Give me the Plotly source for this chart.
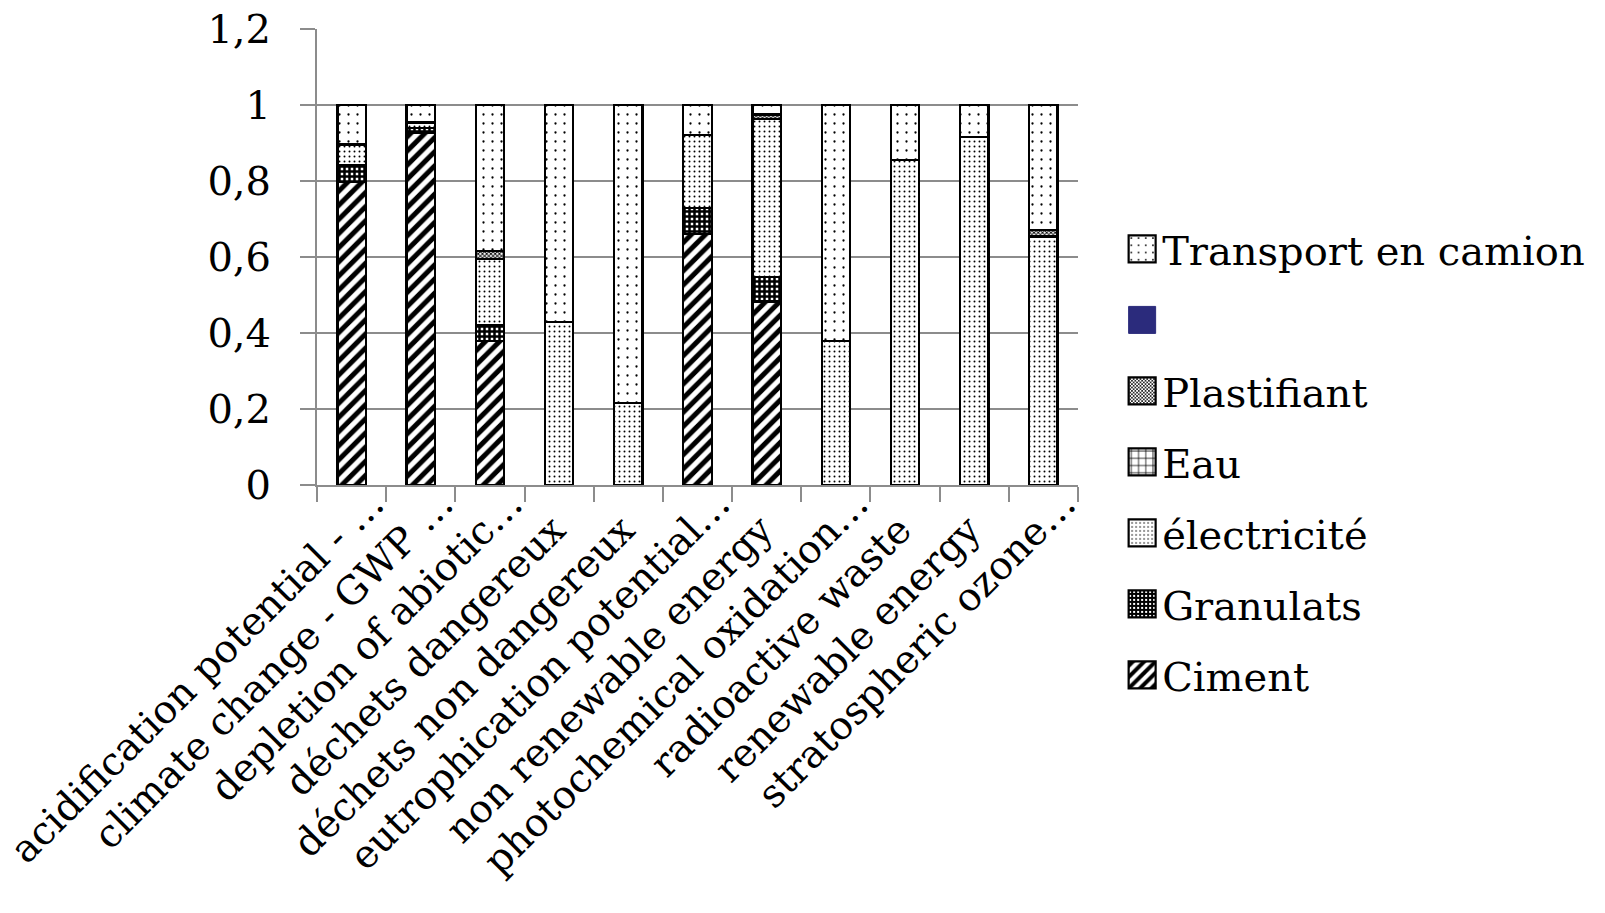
import plotly.graph_objects as go

NBSP = "\u00a0"

categories = [
    "acidification potential - …",
    "climate change - GWP …",
    "depletion of abiotic…",
    "déchets dangereux",
    "déchets non dangereux",
    "eutrophication potential…",
    "non renewable energy",
    "photochemical oxidation…",
    "radioactive waste",
    "renewable energy",
    "stratospheric ozone…",
]

ciment = [0.797, 0.927, 0.380, 0, 0, 0.661, 0.483, 0, 0, 0, 0]
granulats = [0.046, 0.013, 0.042, 0, 0, 0.068, 0.064, 0, 0, 0, 0]
electricite = [0.053, 0.014, 0.173, 0.430, 0.215, 0.193, 0.417, 0.380, 0.855, 0.915, 0.654]
eau = [0, 0, 0, 0, 0, 0, 0, 0, 0, 0, 0]
plastifiant = [0, 0, 0.020, 0, 0, 0, 0.011, 0, 0, 0, 0.018]
sans_nom = [0, 0, 0, 0, 0, 0, 0, 0, 0, 0, 0]
transport = [0.104, 0.046, 0.385, 0.570, 0.785, 0.078, 0.025, 0.620, 0.145, 0.085, 0.328]

FONT = "DejaVu Serif"
GRID = "#8c8c8c"

# full (untruncated) labels sit a little further down the slant
tick_text = [c if c.endswith("…") else c + NBSP * 3 for c in categories]

# stacking order bottom -> top; legend lists them top -> bottom
series = [
    ("Ciment", ciment, dict(shape="/", size=10, solidity=0.5)),
    ("Granulats", granulats, dict(shape="+", size=5, solidity=0.75)),
    ("électricité", electricite, dict(shape=".", size=5, solidity=0.12)),
    ("Eau", eau, dict(shape="+", size=9, solidity=0.2)),
    ("Plastifiant", plastifiant, dict(shape="x", size=3, solidity=0.5)),
    (" ", sans_nom, None),
    ("Transport en camion", transport, dict(shape=".", size=9, solidity=0.05)),
]

fig = go.Figure()
n = len(series)
for i, (name, vals, pat) in enumerate(series):
    if pat is None:
        marker = dict(color="#2b2b7c", line=dict(color="#2b2b7c", width=1))
    else:
        marker = dict(
            color="white",
            line=dict(color="black", width=2.2),
            pattern=dict(fgcolor="black", bgcolor="white", fillmode="replace", **pat),
        )
    fig.add_trace(go.Bar(x=categories, y=vals, name=name, marker=marker,
                         legendgroup=f"g{i}", legendrank=n - i))

fig.update_layout(
    width=1605,
    height=913,
    barmode="stack",
    bargap=0.59,
    separators=", ",
    plot_bgcolor="white",
    paper_bgcolor="white",
    font=dict(family=FONT, size=40, color="black"),
    margin=dict(l=317, r=527, t=29, b=428, autoexpand=False),
    showlegend=True,
    legend=dict(
        x=1.058, xanchor="left", y=0.589, yanchor="top",
        traceorder="grouped", tracegroupgap=16,
        maxheight=900,
        font=dict(family=FONT, size=40, color="black"),
        bgcolor="rgba(0,0,0,0)",
    ),
    xaxis=dict(
        type="category",
        automargin=False,
        tickmode="array",
        tickvals=categories,
        ticktext=tick_text,
        tickangle=-45,
        tickson="boundaries",
        ticks="outside",
        ticklen=15,
        tickwidth=2,
        tickcolor=GRID,
        showline=True,
        linecolor=GRID,
        linewidth=2,
        showgrid=False,
        ticklabelstandoff=-22,
        ticklabelshift=21,
        tickfont=dict(family=FONT, size=39, color="black"),
    ),
    yaxis=dict(
        automargin=False,
        range=[0, 1.2],
        dtick=0.2,
        ticks="outside",
        ticklen=15,
        tickwidth=2,
        tickcolor=GRID,
        showline=True,
        linecolor=GRID,
        linewidth=2,
        showgrid=True,
        gridcolor=GRID,
        gridwidth=2,
        zeroline=False,
        ticklabelstandoff=21,
        tickfont=dict(family=FONT, size=40, color="black"),
    ),
)

# enlarge the legend swatches to suit the large legend text
post = """
(function () {
  function bigSwatches() {
    document.querySelectorAll('g.legend g.legendpoints path').forEach(function (p) {
      p.setAttribute('d', 'M13.5,13.5H-13.5V-13.5H13.5Z');
    });
  }
  bigSwatches();
  [0, 30, 100, 300, 800].forEach(function (t) { setTimeout(bigSwatches, t); });
  var gd = document.querySelector('.plotly-graph-div');
  if (gd && gd.on) { gd.on('plotly_afterplot', bigSwatches); }
})();
"""

fig.write_html("out.html", post_script=post)
